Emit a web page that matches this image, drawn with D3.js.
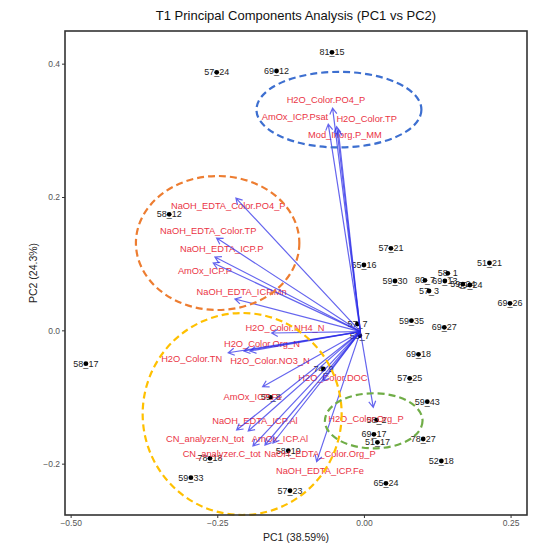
<!DOCTYPE html>
<html>
<head>
<meta charset="utf-8">
<script src="https://cdn.jsdelivr.net/npm/d3@7"></script>
<style>
  body { margin: 0; background: #fff; }
  text { font-family: "Liberation Sans", Arial, sans-serif; }
</style>
</head>
<body>
<div class="canvas"></div>
<script>
// Data
const sample_names = ["81_15","57_24","69_12","58_12","57_21","65_16","59_30","80_7","58_1","69_13",
  "57_3","59_24","69_24","51_21","69_26","59_35","69_27","57_7","53_7","74_9",
  "69_18","57_25","59_43","58_2","69_17","51_17","78_27","52_18","65_24","57_23",
  "59_33","78_18","58_17","59_8","58_19"];
const sample_pc1 = [-0.0545,-0.251,-0.149,-0.332,0.046,0.0,0.053,0.104,0.143,0.138,
  0.111,0.1687,0.1807,0.214,0.249,0.081,0.137,-0.011,-0.007,-0.069,
  0.093,0.078,0.108,0.0216,0.017,0.023,0.101,0.132,0.0375,-0.126,
  -0.295,-0.2625,-0.474,-0.159,-0.129];
const sample_pc2 = [0.417,0.387,0.389,0.174,0.123,0.098,0.074,0.075,0.0855,0.074,
  0.059,0.0694,0.068,0.101,0.0405,0.0145,0.0045,0.0095,-0.008,-0.058,
  -0.036,-0.072,-0.107,-0.1346,-0.156,-0.168,-0.163,-0.196,-0.2295,-0.2406,
  -0.221,-0.192,-0.050,-0.1005,-0.1806];

const loading_names = ["H2O_Color.PO4_P","AmOx_ICP.Psat","H2O_Color.TP","Mod_Inorg.P_MM",
  "NaOH_EDTA_Color.PO4_P","NaOH_EDTA_Color.TP","NaOH_EDTA_ICP.P","AmOx_ICP.P","NaOH_EDTA_ICP.Mn",
  "H2O_Color.NH4_N","H2O_Color.Org_N","H2O_Color.TN","H2O_Color.NO3_N","H2O_Color.DOC",
  "AmOx_ICP.Fe","NaOH_EDTA_ICP.Al","CN_analyzer.N_tot","AmOx_ICP.Al","CN_analyzer.C_tot",
  "NaOH_EDTA_Color.Org_P","NaOH_EDTA_ICP.Fe","H2O_Color.Org_P"];
const loading_pc1 = [-0.0534,-0.0608,-0.0465,-0.0438,
  -0.2182,-0.2511,-0.254,-0.2569,-0.2199,
  -0.1573,-0.2045,-0.2313,-0.1943,-0.0699,
  -0.1727,-0.217,-0.1972,-0.1687,-0.1892,
  -0.1551,-0.0806,0.0159];
const loading_pc2 = [0.3334,0.3094,0.3054,0.3004,
  0.1984,0.1384,0.110,0.101,0.047,
  -0.004,-0.031,-0.0336,-0.031,-0.0761,
  -0.0846,-0.1495,-0.151,-0.172,-0.1735,
  -0.169,-0.197,-0.1155];
// where the repelled labels ended up (PC units)
const label_pc1 = [-0.0648,-0.1176,0.0046,-0.0324,
  -0.2313,-0.2654,-0.2425,-0.271,-0.2085,
  -0.1347,-0.1739,-0.2937,-0.1602,-0.0528,
  -0.1892,-0.1858,-0.271,-0.1432,-0.2425,
  -0.075,-0.075,0.0034];
const label_pc2 = [0.3455,0.3204,0.318,0.293,
  0.1864,0.1494,0.123,0.0894,0.058,
  0.0042,-0.0195,-0.043,-0.046,-0.0711,
  -0.0996,-0.1356,-0.163,-0.162,-0.1855,
  -0.1855,-0.2106,-0.132];
const arrow_origin = [-0.006, -0.002];

// hand-drawn group ellipses (PC units)
const group_cx = [-0.0426, -0.2494, -0.2076, 0.0167];
const group_cy = [0.331, 0.131, -0.1255, -0.1357];
const group_rx = [0.1406, 0.1393, 0.1696, 0.0832];
const group_ry = [0.0567, 0.1005, 0.1515, 0.0413];
const group_colors = ["#3d6fd0", "#ed7d31", "#ffc000", "#70ad47"];

const x_ticks = [-0.5, -0.25, 0, 0.25];
const y_ticks = [-0.2, 0, 0.2, 0.4];

// Settings
const width = 539, height = 543;
const panel = {left: 65, right: 527, top: 31, bottom: 515};
const label_color = "#ea3445";
const arrow_color = "#2a2ae8";

const svg = d3.select(".canvas").append("svg")
  .attr("width", width).attr("height", height);

const xScale = d3.scaleLinear().domain([-0.5096, 0.278]).range([panel.left, panel.right]);
const yScale = d3.scaleLinear().domain([-0.277, 0.449]).range([panel.bottom, panel.top]);

// title
svg.append("text")
  .attr("x", (panel.left + panel.right) / 2).attr("y", 20)
  .attr("text-anchor", "middle").attr("font-size", "13px").attr("fill", "#111")
  .text("T1  Principal Components Analysis (PC1 vs PC2)");

// axes
const xAxis = d3.axisBottom(xScale).tickValues(x_ticks).tickFormat(d3.format(".2f")).tickSize(3).tickPadding(2);
const yAxis = d3.axisLeft(yScale).tickValues(y_ticks).tickFormat(d3.format(".1f")).tickSize(3).tickPadding(2);

const gx = svg.append("g").attr("transform", "translate(0," + panel.bottom + ")").call(xAxis);
const gy = svg.append("g").attr("transform", "translate(" + panel.left + ",0)").call(yAxis);
[gx, gy].forEach(function(g) {
  g.select(".domain").remove();
  g.selectAll(".tick line").attr("stroke", "#333");
  g.selectAll(".tick text").attr("fill", "#555").attr("font-size", "8.5px")
    .attr("font-family", "'Liberation Sans', Arial, sans-serif");
});

svg.append("text")
  .attr("x", (panel.left + panel.right) / 2).attr("y", 541)
  .attr("text-anchor", "middle").attr("font-size", "10.5px").attr("fill", "#222")
  .text("PC1 (38.59%)");
svg.append("text")
  .attr("transform", "translate(37," + ((panel.top + panel.bottom) / 2) + ") rotate(-90)")
  .attr("text-anchor", "middle").attr("font-size", "10.5px").attr("fill", "#222")
  .text("PC2 (24.3%)");

const g = svg.append("g");

// sample labels and points
const samples = sample_names.map((n, i) => ({name: n, pc1: sample_pc1[i], pc2: sample_pc2[i]}));
g.selectAll("text.sample").data(samples).enter().append("text")
  .attr("class", "sample")
  .attr("x", d => xScale(d.pc1)).attr("y", d => yScale(d.pc2))
  .attr("dy", "0.35em").attr("text-anchor", "middle")
  .attr("font-size", "9px").attr("fill", "#222")
  .text(d => d.name);
g.selectAll("circle.sample").data(samples).enter().append("circle")
  .attr("class", "sample")
  .attr("cx", d => xScale(d.pc1)).attr("cy", d => yScale(d.pc2))
  .attr("r", 2.4).attr("fill", "#000");

// loading labels
const loadings = loading_names.map((n, i) => ({
  name: n, pc1: loading_pc1[i], pc2: loading_pc2[i], lx: label_pc1[i], ly: label_pc2[i]
}));
g.selectAll("text.loading").data(loadings).enter().append("text")
  .attr("class", "loading")
  .attr("x", d => xScale(d.lx)).attr("y", d => yScale(d.ly))
  .attr("dy", "0.35em").attr("text-anchor", "middle")
  .attr("font-size", "9.3px").attr("fill", label_color)
  .text(d => d.name);

// loading arrows
const ox = xScale(arrow_origin[0]), oy = yScale(arrow_origin[1]);
function arrowPath(d) {
  const tx = xScale(d.pc1), ty = yScale(d.pc2);
  const ang = Math.atan2(ty - oy, tx - ox);
  const len = 7, spread = Math.PI / 6;
  const a1x = tx - len * Math.cos(ang - spread), a1y = ty - len * Math.sin(ang - spread);
  const a2x = tx - len * Math.cos(ang + spread), a2y = ty - len * Math.sin(ang + spread);
  return "M" + ox + "," + oy + "L" + tx + "," + ty +
    "M" + a1x + "," + a1y + "L" + tx + "," + ty + "L" + a2x + "," + a2y;
}
g.selectAll("path.loading").data(loadings).enter().append("path")
  .attr("class", "loading")
  .attr("d", arrowPath)
  .attr("fill", "none").attr("stroke", arrow_color)
  .attr("stroke-width", 1.2).attr("stroke-opacity", 0.72);

// group ellipses
const groups = group_cx.map((c, i) => ({cx: c, cy: group_cy[i], rx: group_rx[i], ry: group_ry[i], color: group_colors[i]}));
g.selectAll("ellipse").data(groups).enter().append("ellipse")
  .attr("cx", d => xScale(d.cx)).attr("cy", d => yScale(d.cy))
  .attr("rx", d => xScale(d.cx + d.rx) - xScale(d.cx))
  .attr("ry", d => yScale(d.cy) - yScale(d.cy + d.ry))
  .attr("fill", "none").attr("stroke", d => d.color)
  .attr("stroke-width", 2.2).attr("stroke-dasharray", "7,4");

// panel border
svg.append("rect")
  .attr("x", panel.left).attr("y", panel.top)
  .attr("width", panel.right - panel.left).attr("height", panel.bottom - panel.top)
  .attr("fill", "none").attr("stroke", "#333").attr("stroke-width", 1.6);
</script>
</body>
</html>
